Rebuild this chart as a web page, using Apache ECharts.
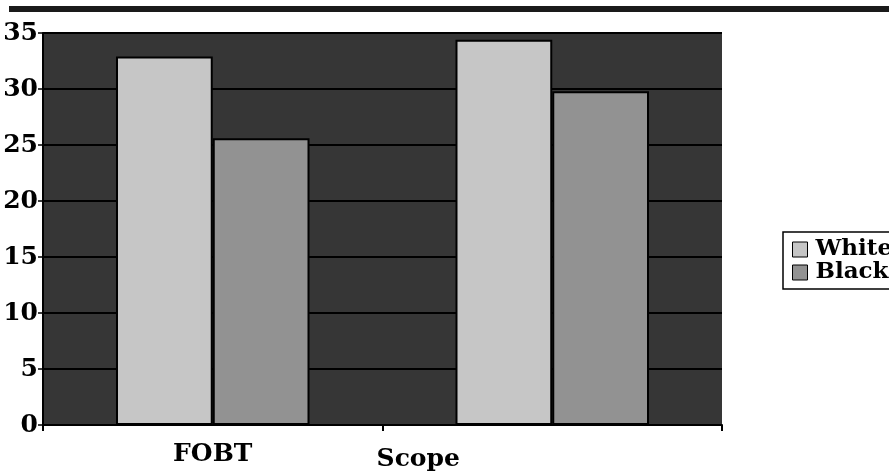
<!DOCTYPE html>
<html>
<head>
<meta charset="utf-8">
<script src="https://cdn.jsdelivr.net/npm/echarts@6/dist/echarts.min.js"></script>
<style>
  html, body { margin: 0; padding: 0; background: #ffffff; }
  #chart { width: 889px; height: 476px; }
</style>
</head>
<body>
<div id="chart"></div>
<script>
// Screening rates by test and race
const categories = ['FOBT', 'Scope'];
const whiteValues = [32.9, 34.4];
const blackValues = [25.6, 29.8];
const seriesNames = ['White', 'Black'];

const serif = '"DejaVu Serif", "Liberation Serif", serif';

const chart = echarts.init(document.getElementById('chart'), null, { renderer: 'canvas' });

chart.setOption({
  backgroundColor: '#ffffff',
  animation: false,
  graphic: [
    { type: 'rect', shape: { x: 9, y: 6, width: 880, height: 6 }, style: { fill: '#1a1a1a' } }
  ],
  grid: {
    left: 43, right: 167, top: 33, bottom: 51,
    show: true, backgroundColor: '#363636', borderWidth: 0
  },
  legend: {
    data: seriesNames,
    orient: 'vertical',
    left: 783, top: 232,
    padding: [6, 30, 5, 9],
    itemGap: 0,
    itemWidth: 15, itemHeight: 15,
    icon: 'rect',
    borderColor: '#000', borderWidth: 1.5,
    backgroundColor: '#ffffff',
    textStyle: { fontFamily: serif, fontWeight: 'bold', fontSize: 23, color: '#000', lineHeight: 20, height: 20, padding: [0, 0, 0, 3] },
    itemStyle: { borderColor: '#000', borderWidth: 1 }
  },
  xAxis: {
    type: 'category',
    data: categories,
    axisLine: { show: true, lineStyle: { color: '#000', width: 2 } },
    axisTick: { show: true, length: 6, lineStyle: { color: '#000', width: 2 } },
    axisLabel: {
      margin: 17,
      fontFamily: serif, fontWeight: 'bold', fontSize: 25, color: '#000',
      formatter: function (v) { return v === 'Scope' ? '{s|' + v + '}' : '{f|' + v + '}'; },
      rich: {
        f: { fontFamily: serif, fontWeight: 'bold', fontSize: 25, color: '#000' },
        s: { fontFamily: serif, fontWeight: 'bold', fontSize: 25, color: '#000', padding: [5, 268, 0, 0] }
      }
    },
    splitLine: { show: false }
  },
  yAxis: {
    type: 'value',
    min: 0, max: 35, interval: 5,
    axisLine: { show: true, lineStyle: { color: '#000', width: 2 } },
    axisTick: { show: true, length: 5, lineStyle: { color: '#000', width: 1.5 } },
    axisLabel: { margin: 5, fontFamily: serif, fontWeight: 'bold', fontSize: 25, color: '#000' },
    splitLine: { show: true, lineStyle: { color: '#000', width: 2 } }
  },
  series: [
    {
      name: seriesNames[0], type: 'bar', data: whiteValues,
      barCategoryGap: '43%', barGap: '0%',
      itemStyle: { color: '#c6c6c6', borderColor: '#000', borderWidth: 2 }
    },
    {
      name: seriesNames[1], type: 'bar', data: blackValues,
      barCategoryGap: '43%', barGap: '0%',
      itemStyle: { color: '#929292', borderColor: '#000', borderWidth: 2 }
    }
  ]
});
</script>
</body>
</html>
